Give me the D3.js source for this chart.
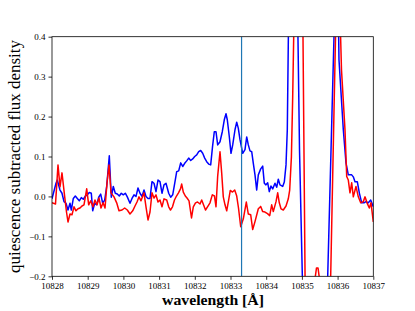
<!DOCTYPE html>
<html>
<head>
<meta charset="utf-8">
<script src="https://cdn.jsdelivr.net/npm/d3@7"></script>
<style>
  body { margin: 0; background: #fff; }
  svg { display: block; }
  .tick text { font-family: "Liberation Serif", serif; font-size: 9px; fill: #000; }
</style>
</head>
<body>
<div id="chart"></div>
<script>
// wavelength (Angstrom) and quiescence subtracted flux
const blueWave = [
  10828.000, 10828.112, 10828.148, 10828.224, 10828.280, 10828.336, 10828.392, 10828.448, 10828.504, 10828.541,
  10828.597, 10828.653, 10828.709, 10828.765, 10828.821, 10828.877, 10828.933, 10828.989,
  10829.045, 10829.101, 10829.140, 10829.196, 10829.252, 10829.308, 10829.364, 10829.420, 10829.476, 10829.532,
  10829.605, 10829.661, 10829.717, 10829.773, 10829.829, 10829.885, 10829.941, 10829.997,
  10830.053, 10830.109, 10830.185, 10830.241, 10830.297, 10830.353, 10830.409, 10830.465, 10830.521, 10830.577,
  10830.633, 10830.689, 10830.745, 10830.801, 10830.857, 10830.913, 10830.969,
  10831.025, 10831.081, 10831.137, 10831.193, 10831.269, 10831.325, 10831.381, 10831.437, 10831.493, 10831.549,
  10831.605, 10831.661, 10831.717, 10831.773, 10831.829, 10831.885, 10831.941, 10831.997,
  10832.053, 10832.109, 10832.165, 10832.221, 10832.277, 10832.333, 10832.389, 10832.445, 10832.496, 10832.546,
  10832.594, 10832.641, 10832.706, 10832.770, 10832.826, 10832.874, 10832.910, 10832.966,
  10833.014, 10833.062, 10833.126, 10833.174, 10833.218, 10833.266, 10833.342, 10833.406, 10833.454, 10833.499,
  10833.546, 10833.594, 10833.639, 10833.686, 10833.734, 10833.779, 10833.846, 10833.902, 10833.947, 10833.994,
  10834.042, 10834.087, 10834.134, 10834.182, 10834.246, 10834.294, 10834.339, 10834.387, 10834.462, 10834.507,
  10834.555, 10834.591, 10834.681, 10834.779, 10834.933,
  10835.059, 10835.171, 10835.367, 10835.563, 10835.689, 10835.843, 10835.941, 10835.983,
  10836.039, 10836.160, 10836.235, 10836.300, 10836.395, 10836.440, 10836.487, 10836.552, 10836.608, 10836.675,
  10836.739, 10836.796, 10836.860, 10836.927, 10837.000
];
const blueFlux = [
  -0.006, 0.033, 0.041, 0.016, 0.008, -0.013, -0.017, -0.034, -0.017, -0.034,
  -0.005, 0.001, -0.005, -0.011, -0.003, -0.007, 0.001, 0.004,
  0.010, 0.008, -0.036, -0.017, -0.021, -0.002, 0.006, -0.017, -0.009, 0.025,
  0.102, -0.002, 0.025, 0.008, 0.006, 0.001, 0.008, 0.004,
  0.008, -0.001, -0.017, -0.005, 0.004, 0.000, 0.021, 0.008, 0.000, 0.016,
  0.000, -0.005, -0.005, 0.037, 0.033, 0.012, 0.041,
  0.037, 0.008, 0.029, 0.033, 0.008, -0.002, 0.004, 0.033, 0.062, 0.064,
  0.084, 0.075, 0.083, 0.089, 0.096, 0.090, 0.094, 0.100,
  0.104, 0.112, 0.115, 0.108, 0.096, 0.087, 0.081, 0.079, 0.124, 0.162,
  0.162, 0.129, 0.137, 0.162, 0.192, 0.207, 0.192, 0.150,
  0.108, 0.129, 0.167, 0.186, 0.171, 0.142, 0.108, 0.117, 0.149, 0.129,
  0.114, 0.112, 0.083, 0.054, 0.016, 0.054, 0.069, 0.076, 0.033, 0.029,
  0.034, 0.012, 0.026, 0.019, 0.033, 0.023, 0.043, 0.029, 0.025, 0.036,
  0.079, 0.167, 0.868, 1.119, 0.117,
  -0.385, -0.561, -0.636, -0.561, -0.315, 0.209, 0.543, 0.693,
  0.342, 0.167, 0.084, 0.054, 0.054, 0.049, 0.037, 0.037, 0.009, -0.016,
  -0.016, -0.013, -0.016, -0.009, -0.026
];

const redWave = [
  10828.000, 10828.098, 10828.168, 10828.224, 10828.280, 10828.356, 10828.406, 10828.448, 10828.504, 10828.560,
  10828.616, 10828.672, 10828.728, 10828.784, 10828.840, 10828.896, 10828.972,
  10829.028, 10829.084, 10829.148, 10829.204, 10829.261, 10829.317, 10829.373, 10829.429, 10829.485, 10829.541,
  10829.597, 10829.653, 10829.737, 10829.812, 10829.877, 10829.961,
  10830.036, 10830.109, 10830.185, 10830.261, 10830.325, 10830.381, 10830.437, 10830.493, 10830.577, 10830.633,
  10830.689, 10830.745, 10830.801, 10830.857, 10830.913, 10830.969,
  10831.025, 10831.081, 10831.137, 10831.213, 10831.269, 10831.319, 10831.375, 10831.431, 10831.487, 10831.543,
  10831.599, 10831.633, 10831.678, 10831.734, 10831.782, 10831.838, 10831.908, 10831.958,
  10832.020, 10832.076, 10832.146, 10832.193, 10832.244, 10832.300, 10832.356, 10832.426, 10832.490, 10832.552,
  10832.594, 10832.641, 10832.706, 10832.753, 10832.798, 10832.846, 10832.894, 10832.944, 10832.994,
  10833.056, 10833.118, 10833.174, 10833.224, 10833.286, 10833.359, 10833.443, 10833.499, 10833.566, 10833.622,
  10833.686, 10833.779, 10833.846, 10833.902, 10833.966,
  10834.036, 10834.098, 10834.154, 10834.199, 10834.275, 10834.322, 10834.367, 10834.415, 10834.479, 10834.555,
  10834.619, 10834.658, 10834.706, 10834.742, 10834.790, 10834.902,
  10835.017, 10835.101, 10835.227, 10835.325, 10835.409, 10835.451, 10835.535, 10835.647, 10835.773, 10835.899,
  10835.969,
  10836.011, 10836.109, 10836.207, 10836.255, 10836.300, 10836.347, 10836.395, 10836.440, 10836.515, 10836.580,
  10836.647, 10836.720, 10836.768, 10836.824, 10836.888, 10836.936, 10837.000
];
const redFlux = [
  -0.016, -0.019, 0.079, 0.024, 0.059, -0.001, -0.039, -0.064, -0.044, -0.046,
  -0.026, -0.036, -0.031, -0.029, -0.024, -0.021, 0.019,
  -0.021, -0.011, -0.026, -0.009, -0.021, -0.004, -0.029, -0.016, -0.029, 0.034,
  0.079, 0.009, -0.001, -0.016, -0.036, -0.034,
  -0.029, -0.034, -0.044, -0.036, -0.024, -0.014, -0.001, -0.011, 0.009, -0.026,
  -0.059, -0.039, 0.009, -0.004, 0.004, -0.014,
  -0.009, -0.026, -0.006, -0.009, -0.026, -0.034, -0.026, -0.009, 0.001, 0.009,
  0.019, 0.031, 0.011, 0.001, -0.004, -0.011, -0.054, -0.026,
  -0.016, -0.014, -0.019, -0.009, -0.021, -0.034, -0.026, -0.016, 0.004, 0.001,
  -0.026, 0.051, 0.112, 0.059, -0.001, -0.021, -0.036, -0.011, 0.015,
  0.011, 0.016, 0.001, -0.029, -0.076, -0.056, -0.014, -0.044, -0.046, -0.083,
  -0.063, -0.031, -0.025, -0.038, -0.039,
  -0.043, -0.048, -0.021, -0.038, -0.013, 0.009, -0.016, -0.031, -0.034, -0.024,
  -0.006, 0.016, 0.099, 0.249, 0.505, 1.069,
  0.543, -0.335, -0.460, -0.234, -0.179, -0.179, -0.234, -0.460, -0.350, 0.214,
  0.518,
  0.643, 0.317, 0.167, 0.050, 0.041, 0.009, 0.034, -0.001, 0.025, -0.001,
  -0.016, -0.013, -0.001, -0.016, -0.029, -0.016, -0.064
];

const markerWave = 10833.31;
const xTicks = [10828, 10829, 10830, 10831, 10832, 10833, 10834, 10835, 10836, 10837];
const yTicks = [-0.2, -0.1, 0.0, 0.1, 0.2, 0.3, 0.4];

const width = 415, height = 311;
const margin = { top: 36.7, right: 41.7, bottom: 34.7, left: 52 };
const innerW = width - margin.left - margin.right;
const innerH = height - margin.top - margin.bottom;

const svg = d3.select("#chart").append("svg")
  .attr("width", width)
  .attr("height", height);

const g = svg.append("g")
  .attr("transform", `translate(${margin.left},${margin.top})`);

const x = d3.scaleLinear().domain([10828, 10837]).range([0, innerW]);
const y = d3.scaleLinear().domain([-0.2, 0.4]).range([innerH, 0]);

g.append("clipPath").attr("id", "plot-clip")
  .append("rect").attr("width", innerW).attr("height", innerH);

const line = d3.line().x(d => x(d[0])).y(d => y(d[1]));

const plot = g.append("g").attr("clip-path", "url(#plot-clip)");

plot.append("path")
  .datum(d3.zip(blueWave, blueFlux))
  .attr("d", line)
  .attr("fill", "none")
  .attr("stroke", "#0000ff")
  .attr("stroke-width", 1.5)
  .attr("stroke-linejoin", "round");

plot.append("path")
  .datum(d3.zip(redWave, redFlux))
  .attr("d", line)
  .attr("fill", "none")
  .attr("stroke", "#ff0000")
  .attr("stroke-width", 1.5)
  .attr("stroke-linejoin", "round");

plot.append("line")
  .attr("x1", x(markerWave)).attr("x2", x(markerWave))
  .attr("y1", 0).attr("y2", innerH)
  .attr("stroke", "#1f77b4")
  .attr("stroke-width", 1.2);

// axes
const xAxis = g.append("g")
  .attr("transform", `translate(0,${innerH})`)
  .call(d3.axisBottom(x).tickValues(xTicks).tickFormat(d3.format("d")).tickSize(3.5).tickPadding(3));
const yAxis = g.append("g")
  .call(d3.axisLeft(y).tickValues(yTicks).tickFormat(d3.format(".1f")).tickSize(3.5).tickPadding(3));

[xAxis, yAxis].forEach(a => {
  a.select(".domain").remove();
  a.selectAll(".tick line").attr("stroke", "#000").attr("stroke-width", 0.8);
});

g.append("rect")
  .attr("width", innerW).attr("height", innerH)
  .attr("fill", "none")
  .attr("stroke", "#000")
  .attr("stroke-width", 0.8);

svg.append("text")
  .attr("x", 213)
  .attr("y", 305)
  .attr("text-anchor", "middle")
  .attr("textLength", 102)
  .attr("lengthAdjust", "spacingAndGlyphs")
  .style("font-family", "'Liberation Serif', serif")
  .style("font-weight", "bold")
  .style("font-size", "15px")
  .text("wavelength [Å]");

svg.append("text")
  .attr("transform", `translate(20,156.5) rotate(-90)`)
  .attr("text-anchor", "middle")
  .attr("textLength", 233)
  .attr("lengthAdjust", "spacingAndGlyphs")
  .style("font-family", "'Liberation Serif', serif")
  .style("font-size", "16px")
  .text("quiescence subtracted flux density");
</script>
</body>
</html>
